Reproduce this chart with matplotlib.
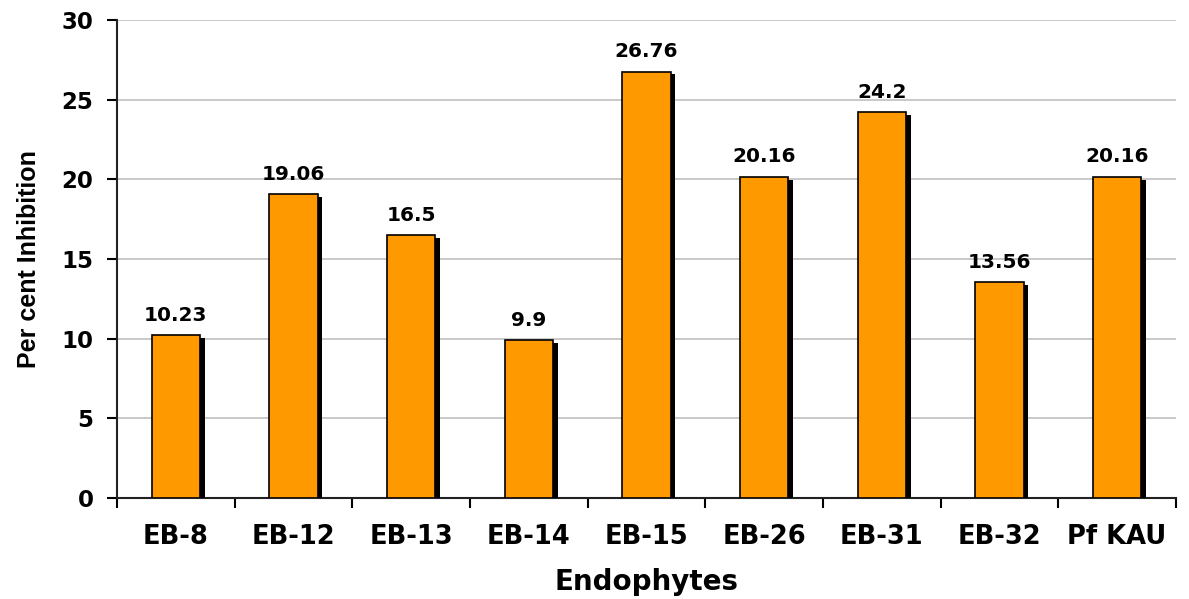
import matplotlib.pyplot as plt
import matplotlib.patheffects as pe
from matplotlib import font_manager

endophytes = ['EB-8', 'EB-12', 'EB-13', 'EB-14', 'EB-15', 'EB-26', 'EB-31', 'EB-32', 'Pf KAU']
inhibition = [10.23, 19.06, 16.5, 9.9, 26.76, 20.16, 24.2, 13.56, 20.16]
value_labels = ['10.23', '19.06', '16.5', '9.9', '26.76', '20.16', '24.2', '13.56', '20.16']

plt.rcParams['font.family'] = ['DejaVu Sans']

# pick a narrow bold face for the y label if one is installed
fonts = font_manager.fontManager.ttflist
if any(f.name == 'Liberation Sans Narrow' for f in fonts):
    ylab = dict(family='Liberation Sans Narrow', fontsize=22)
elif any(f.name == 'DejaVu Sans' and f.stretch == 'condensed' and f.weight == 'bold' for f in fonts):
    ylab = dict(family='DejaVu Sans', fontstretch='condensed', fontsize=20)
else:
    ylab = dict(family='Liberation Sans', fontsize=18)

fig = plt.figure(figsize=(11.89, 5.99), dpi=100)
ax = fig.add_axes([0.0984, 0.1686, 0.8906, 0.798])

x = range(len(endophytes))
bars = ax.bar(x, inhibition, width=0.41, color='#FF9900', edgecolor='black',
              linewidth=1.2, zorder=3)
for b in bars:
    b.set_path_effects([pe.SimplePatchShadow(offset=(3.5, -2), shadow_rgbFace='black', alpha=1.0),
                        pe.Normal()])

for xi, v, lab in zip(x, inhibition, value_labels):
    ax.annotate(lab, (xi, v), xytext=(0, 7.5), textcoords='offset points',
                ha='center', va='bottom', fontsize=14.5, fontweight='bold')

ax.set_xlim(-0.5, len(endophytes) - 0.5)
ax.set_ylim(0, 30)
ax.set_yticks(range(0, 31, 5))
ax.yaxis.grid(True, color='#C0C0C0', linewidth=1.2, zorder=0)
ax.set_axisbelow(True)

ax.set_xticks(x)
ax.set_xticklabels(endophytes, fontsize=18.5, fontweight='bold')
ax.set_xticks([i - 0.5 for i in range(len(endophytes) + 1)], minor=True)
ax.tick_params(axis='x', which='major', length=0, pad=19)
ax.tick_params(axis='x', which='minor', length=7, width=1.5, direction='out')
ax.tick_params(axis='y', length=7, width=1.5, labelsize=16.5, pad=10)
for t in ax.get_yticklabels():
    t.set_fontweight('bold')

for s in ['top', 'right']:
    ax.spines[s].set_visible(False)
for s in ['left', 'bottom']:
    ax.spines[s].set_linewidth(1.5)
    ax.spines[s].set_color('#222222')

ax.set_xlabel('Endophytes', fontsize=20, fontweight='bold', labelpad=13)
ax.set_ylabel('Per cent Inhibition', fontweight='bold', labelpad=15, **ylab)

fig.savefig('out.png', dpi=100)
